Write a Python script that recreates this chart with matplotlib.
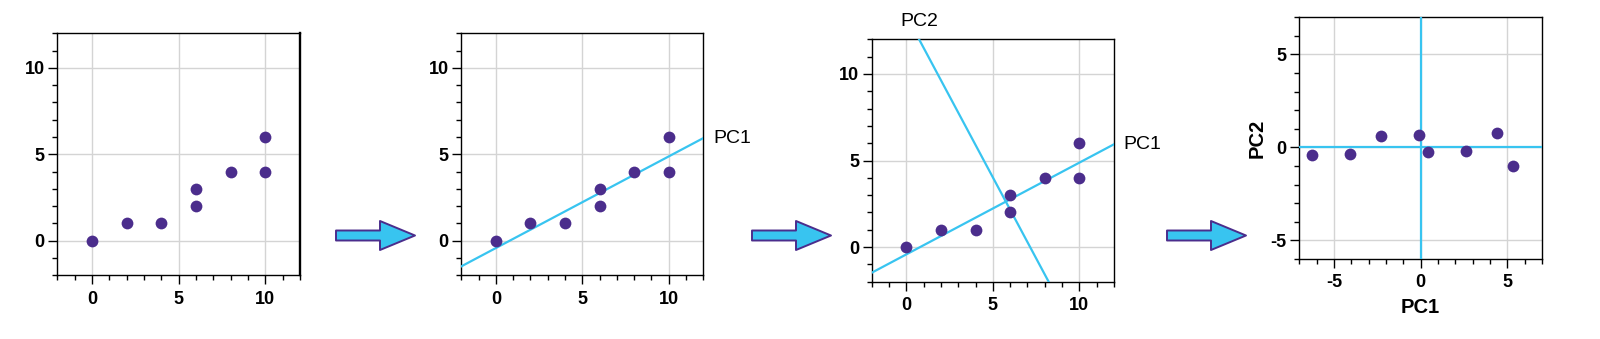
import matplotlib
matplotlib.use("Agg")
import matplotlib.pyplot as plt
from matplotlib.patches import FancyArrow
from matplotlib.ticker import MultipleLocator

plt.rcParams['font.family'] = ['Liberation Sans', 'DejaVu Sans']
plt.rcParams['axes.unicode_minus'] = False

# ---- data ----
x_vals = [0, 2, 4, 6, 6, 8, 10, 10]
y_vals = [0, 1, 1, 2, 3, 4, 4, 6]
center = (5.75, 2.625)
pc1_slope = 0.53
pc2_slope = -1.87
pc1_scores = [-6.29, -4.07, -2.30, -0.08, 0.41, 2.64, 4.42, 5.35]
pc2_scores = [-0.39, -0.34, 0.61, 0.66, -0.23, -0.18, 0.77, -0.98]
xy_ticks = [0, 5, 10]
score_ticks = [-5, 0, 5]

PURPLE = '#4B2D8C'
BLUE = '#38C4F0'
GRID = '#D4D4D4'

W, H = 1600, 339
fig = plt.figure(figsize=(W / 100, H / 100), dpi=100)


def px_axes(left, top, right, bottom):
    return fig.add_axes([left / W, (H - bottom) / H, (right - left) / W, (bottom - top) / H])


def style(ax, xlim, ylim, ticks):
    ax.set_xlim(*xlim)
    ax.set_ylim(*ylim)
    ax.set_xticks(ticks)
    ax.set_yticks(ticks)
    ax.xaxis.set_minor_locator(MultipleLocator(1))
    ax.yaxis.set_minor_locator(MultipleLocator(1))
    ax.grid(True, which='major', color=GRID, lw=1.0, zorder=0)
    ax.set_axisbelow(True)
    ax.tick_params(which='major', length=6.5, width=1.0, direction='out', labelsize=13, pad=4.5)
    ax.tick_params(which='minor', length=3.6, width=1.0, direction='out')
    ax.tick_params(axis='y', which='major', pad=2.5)
    for lab in ax.get_xticklabels() + ax.get_yticklabels():
        lab.set_fontweight('bold')
    for s in ax.spines.values():
        s.set_linewidth(1.0)
        s.set_color('black')


def scatter(ax, xs, ys):
    ax.scatter(xs, ys, s=72, color=PURPLE, zorder=5, linewidths=0)


# Panel 1
ax1 = px_axes(57.3, 33.3, 300, 275.3)
style(ax1, (-2, 12), (-2, 12), xy_ticks)
scatter(ax1, x_vals, y_vals)
ax1.spines['right'].set_linewidth(1.7)

# Panel 2
ax2 = px_axes(461.3, 33.3, 703.3, 275.3)
style(ax2, (-2, 12), (-2, 12), xy_ticks)
scatter(ax2, x_vals, y_vals)
ax2.axline(center, slope=pc1_slope, color=BLUE, lw=1.6, zorder=4)
ax2.annotate('PC1', xy=(12, center[1] + (12 - center[0]) * pc1_slope), xytext=(7, 0),
             textcoords='offset points', ha='left', va='center', fontsize=14,
             annotation_clip=False)

# Panel 3
ax3 = px_axes(871.7, 39.3, 1114, 281.7)
style(ax3, (-2, 12), (-2, 12), xy_ticks)
scatter(ax3, x_vals, y_vals)
ax3.axline(center, slope=pc1_slope, color=BLUE, lw=1.6, zorder=4)
ax3.axline(center, slope=pc2_slope, color=BLUE, lw=1.6, zorder=4)
ax3.annotate('PC1', xy=(12, center[1] + (12 - center[0]) * pc1_slope), xytext=(7, 0),
             textcoords='offset points', ha='left', va='center', fontsize=14,
             annotation_clip=False)
ax3.annotate('PC2', xy=(center[0] + (12 - center[1]) / pc2_slope, 12), xytext=(0, 7),
             textcoords='offset points', ha='center', va='bottom', fontsize=14,
             annotation_clip=False)

# Panel 4
ax4 = px_axes(1299.3, 17.3, 1542, 259)
style(ax4, (-7, 7), (-6, 7), score_ticks)
ax4.axhline(0, color=BLUE, lw=1.6, zorder=3)
ax4.axvline(0, color=BLUE, lw=1.6, zorder=3)
scatter(ax4, pc1_scores, pc2_scores)
ax4.set_xlabel('PC1', fontsize=14.5, fontweight='bold', labelpad=5)
ax4.set_ylabel('PC2', fontsize=14.5, fontweight='bold', labelpad=3)

# Arrows between panels
ov = fig.add_axes([0, 0, 1, 1], zorder=-1)
ov.set_xlim(0, W)
ov.set_ylim(H, 0)
ov.axis('off')
for x0 in (336, 752, 1167):
    ov.add_patch(FancyArrow(x0, 235.5, 79, 0, width=10, head_width=29, head_length=35,
                            length_includes_head=True, fc=BLUE, ec=PURPLE, lw=1.4,
                            joinstyle='round', capstyle='round'))

fig.savefig('out.png', dpi=100)
